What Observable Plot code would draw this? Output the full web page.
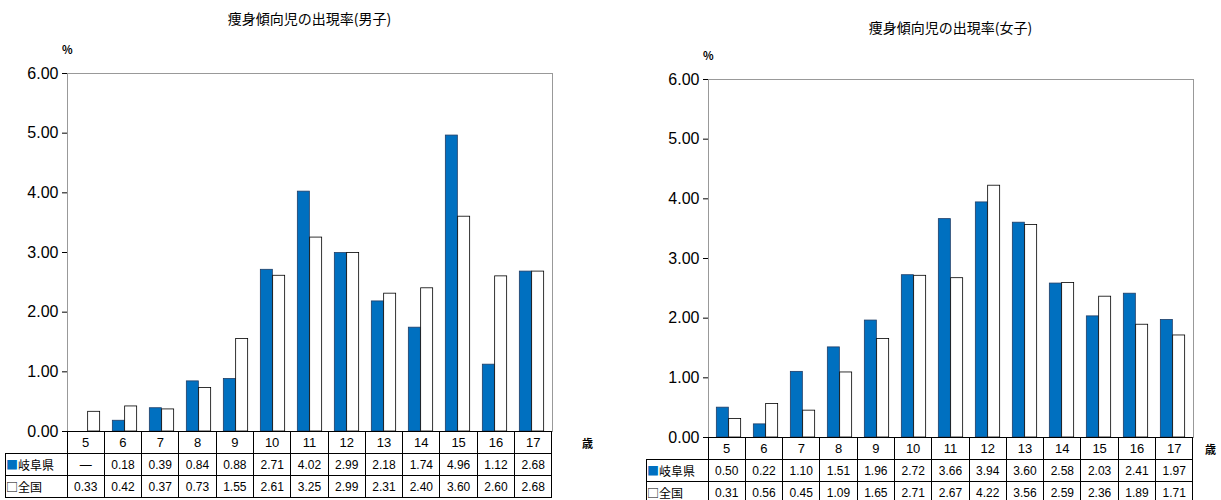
<!DOCTYPE html>
<html><head><meta charset="utf-8">
<script src="https://cdn.jsdelivr.net/npm/d3@7"></script>
<script src="https://cdn.jsdelivr.net/npm/@observablehq/plot@0.6"></script>
<style>
body{margin:0;background:#fff;font-family:"Noto Sans CJK JP",sans-serif;overflow:hidden;}
.chart{position:absolute;width:600px;height:500px;}
.title{position:absolute;left:67px;width:485px;text-align:center;font-size:14px;}
.pct{position:absolute;left:62px;font-size:11px;font-weight:bold;}
.svgwrap{position:absolute;left:0;top:0;}
table{position:absolute;left:5px;border-collapse:collapse;font-size:12px;font-family:"Liberation Sans",sans-serif;table-layout:fixed;}
td{border:1px solid #000;height:21px;padding:0;text-align:center;white-space:nowrap;}
td.lab{text-align:left;font-family:"Noto Sans CJK JP";font-size:12px;}
td.empty{border:none;}
.sai{position:absolute;font-size:11px;font-weight:bold;}
</style></head><body>
<div id="c1" class="chart" style="left:0;top:0"></div>
<div id="c2" class="chart" style="left:641px;top:6px"></div>
<script>
const ages = [5,6,7,8,9,10,11,12,13,14,15,16,17];
const boysGifu = [null,0.18,0.39,0.84,0.88,2.71,4.02,2.99,2.18,1.74,4.96,1.12,2.68];
const boysJapan = [0.33,0.42,0.37,0.73,1.55,2.61,3.25,2.99,2.31,2.40,3.60,2.60,2.68];
const girlsGifu = [0.50,0.22,1.10,1.51,1.96,2.72,3.66,3.94,3.60,2.58,2.03,2.41,1.97];
const girlsJapan = [0.31,0.56,0.45,1.09,1.65,2.71,2.67,4.22,3.56,2.59,2.36,1.89,1.71];
const yTicks = [0,1,2,3,4,5,6];

function draw(id, title, titleTop, saiLeft, gifu, japan) {
  const el = document.getElementById(id);
  const ml = 67, mr = 8, mt = 73, mb = 10, h = 441, w = 560;
  const bw = (w - ml - mr) / ages.length;
  const d1 = ages.map((a, i) => ({age: a, v: gifu[i]})).filter(d => d.v != null);
  const d2 = ages.map((a, i) => ({age: a, v: japan[i]}));
  const chart = Plot.plot({
    width: w, height: h, marginLeft: ml, marginRight: mr, marginTop: mt, marginBottom: mb,
    style: {fontFamily: "Liberation Sans, sans-serif", fontSize: "16px", color: "#000"},
    x: {type: "band", domain: ages, padding: 0, axis: null},
    y: {domain: [0, 6], ticks: yTicks, tickFormat: d => d.toFixed(2), tickSize: 5, label: null},
    marks: [
      Plot.frame({stroke: "#999"}),
      Plot.barY(d1, {x: "age", y: "v", fill: "#0070C0", stroke: "#1f3d66", strokeWidth: 0.8,
        insetLeft: bw * 0.17, insetRight: bw * 0.5}),
      Plot.barY(d2, {x: "age", y: "v", fill: "#fff", stroke: "#000", strokeWidth: 0.8,
        insetLeft: bw * 0.5, insetRight: bw * 0.17})
    ]
  });
  const wrap = document.createElement("div");
  wrap.className = "svgwrap";
  wrap.append(chart);
  el.append(wrap);
  const t = document.createElement("div");
  t.className = "title"; t.style.top = titleTop + "px"; t.textContent = title;
  el.append(t);
  const p = document.createElement("div");
  p.className = "pct"; p.style.top = (mt - 32) + "px"; p.textContent = "%";
  el.append(p);
  const s = document.createElement("div");
  s.className = "sai"; s.style.left = saiLeft + "px"; s.style.top = (h - mb + 4) + "px"; s.textContent = "歳";
  el.append(s);
  const fmt = v => v == null ? "—" : v.toFixed(2);
  let html = `<tr><td class="empty" style="width:61px"></td>${ages.map(a => `<td style="width:${bw-1}px;font-size:13px">${a}</td>`).join("")}</tr>`;
  html += `<tr><td class="lab"><span style="color:#0070C0">■</span>岐阜県</td>${gifu.map(v => `<td>${fmt(v)}</td>`).join("")}</tr>`;
  html += `<tr><td class="lab">□全国</td>${japan.map(v => `<td>${fmt(v)}</td>`).join("")}</tr>`;
  const tb = document.createElement("table");
  tb.style.top = (h - mb) + "px";
  tb.innerHTML = html;
  el.append(tb);
}
draw("c1", "痩身傾向児の出現率(男子)", 8, 582, boysGifu, boysJapan);
draw("c2", "痩身傾向児の出現率(女子)", 11, 564, girlsGifu, girlsJapan);
</script>
</body></html>
